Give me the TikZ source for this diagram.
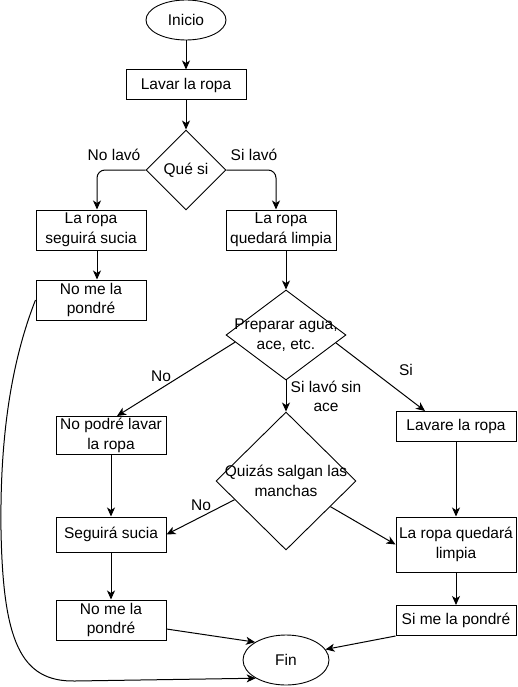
\documentclass[tikz,border=0pt]{standalone}
\usepackage{fontspec}
\setmainfont{Liberation Sans}
\usetikzlibrary{shapes.geometric,arrows.meta,calc}

\begin{document}
\begin{tikzpicture}[x=1pt,y=-1pt,
    every node/.style={font=\fontsize{15.5}{19.5}\selectfont, inner sep=1pt},
    box/.style={draw, line width=1pt, align=center, minimum width=110pt, minimum height=40pt},
    decision/.style={draw, diamond, line width=0.9pt, inner sep=0pt},
    terminal/.style={draw, ellipse, line width=0.9pt, minimum width=80pt, minimum height=40pt},
    arr/.style={-{Stealth[length=9pt,width=8pt,inset=2.5pt]}, line width=1pt}]
            \useasboundingbox (0,0) rectangle (518,687);

            \node[terminal] (ini) at (186,20) {Inicio};
            \node[box, minimum width=120pt, minimum height=30pt] (lavar) at (186,85) {Lavar la ropa};
            \node[decision, minimum width=80pt, minimum height=80pt, label=center:{Qué si}] (quesi) at (186,170) {};
            \node[box] (sucia) at (91,230) {La ropa\\seguirá sucia};
            \node[box] (limpia) at (281,230) {La ropa\\quedará limpia};
            \node[box] (noPondre) at (91,300) {No me la\\pondré};
            \node[decision, minimum width=120pt, minimum height=90pt,
                label={[align=center]center:{Preparar agua,\\ace, etc.}}] (prep) at (286,335) {};
            \node[box, minimum height=38pt] (noPodre) at (111,435.5) {No podré lavar\\la ropa};
            \node[box, minimum width=120pt, minimum height=30pt] (lavare) at (456,426.5) {Lavare la ropa};
            \node[decision, minimum width=140pt, minimum height=138pt,
                label={[align=center]center:{Quizás salgan las\\manchas}}] (quizas) at (286,481) {};
            \node[box, minimum height=35pt] (seguira) at (111,534.5) {Seguirá sucia};
            \node[box, minimum width=120pt, minimum height=55pt] (limpia2) at (456,544.5) {La ropa quedará\\limpia};
            \node[box] (noPondre2) at (111,620) {No me la\\pondré};
            \node[box, minimum width=120pt, minimum height=30pt] (siPondre) at (456,620.5) {Si me la pondré};
            \node[terminal, minimum width=86pt, minimum height=50pt] (fin) at (286,660) {Fin};

            \node (noLavo) at (114,155) {No lavó};
            \node (siLavo) at (254,155) {Si lavó};
            \node (no1) at (161,376) {No};
            \node[align=center] (sinAce) at (326,396.5) {Si lavó sin\\ace};
            \node (si1) at (406,370) {Si};
            \node (no2) at (201,505) {No};

            \draw[arr] (ini) -- (lavar);
            \draw[arr] (lavar) -- (quesi);
            \draw[arr, rounded corners=8pt] (quesi.west) -| ([xshift=6pt]sucia.north);
            \draw[arr, rounded corners=8pt] (quesi.east) -| ([xshift=-5pt]limpia.north);
            \draw[arr] ([xshift=6pt]sucia.south) -- ([xshift=6pt]noPondre.north);
            \draw[arr] ([xshift=5pt]limpia.south) -- (prep.north);

            \draw[arr] (prep.188.7) -- ([xshift=6pt]noPodre.north);
            \draw[arr] (prep.south) -- (quizas.north);
            \draw[arr] (prep.351.3) -- ([xshift=-31pt]lavare.north);
            \draw[arr] (noPodre) -- (seguira);
            \draw[arr] (quizas.200.7) -- (seguira.east);
            \draw[arr] (quizas.330.5) -- (limpia2.west);
            \draw[arr] (seguira) -- (noPondre2);
            \draw[arr] (lavare) -- (limpia2);
            \draw[arr] (limpia2) -- (siPondre);

            \draw[arr] ([yshift=-9pt]noPondre2.east) -- (fin.150);
            \draw[arr] (siPondre.south west) -- (fin.15);
            \draw[arr] (noPondre.west) .. controls (8,370) and (0,450) .. (1,530)
                .. controls (3,640) and (20,682) .. (75,681) -- (fin.211);
        \end{tikzpicture}
\end{document}
